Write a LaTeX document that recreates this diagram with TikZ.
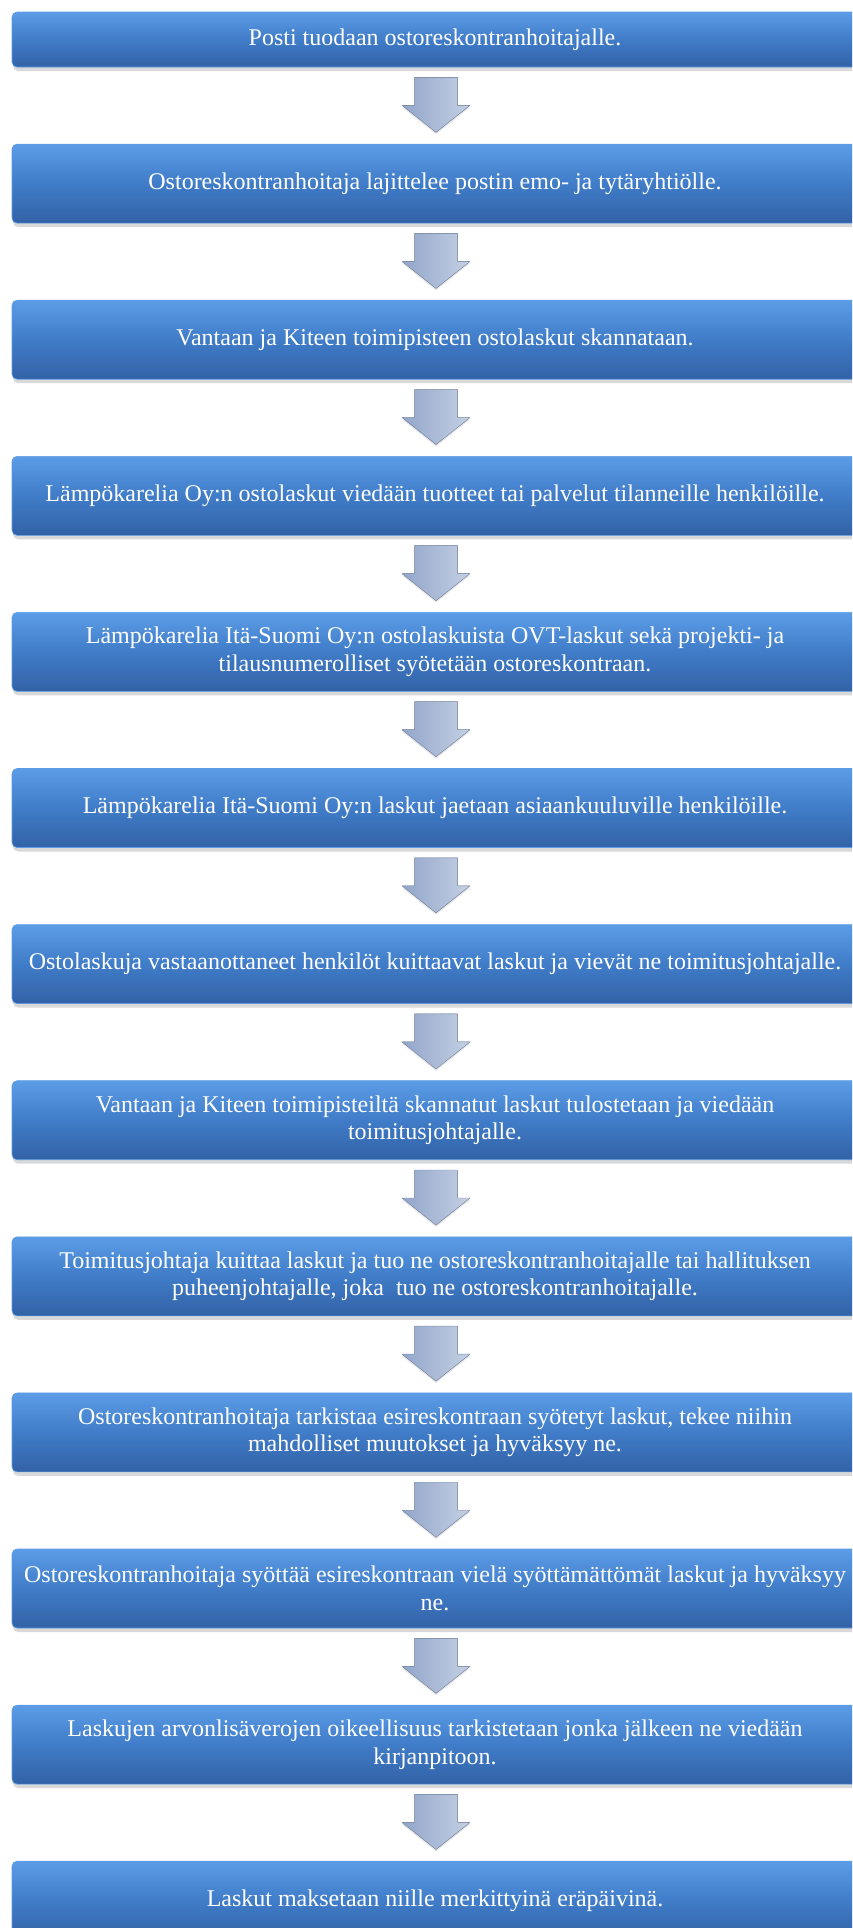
\documentclass[tikz,border=0pt]{standalone}
\usepackage{fontspec}
\setmainfont{Liberation Serif}
\usepackage{tikz}
\usetikzlibrary{positioning,calc,shadows}
\definecolor{boxtop}{RGB}{92,156,230}
\definecolor{boxmid}{RGB}{64,124,200}
\definecolor{boxbot}{RGB}{50,98,166}
\definecolor{arrowleft}{RGB}{146,166,202}
\definecolor{arrowright}{RGB}{196,208,228}
\definecolor{arrowedge}{RGB}{128,146,178}

% block arrow from the bottom of one step to the top of the next
\newcommand{\flowarrow}[2]{%
  \filldraw[arrowbody]
    ($(#1.south)+(-20.5,-10)$) -- ($(#1.south)+(22.5,-10)$)
    -- ($(#2.north)+(22.5,38.5)$) -- ($(#2.north)+(35,38.5)$)
    -- ($(#2.north)+(1,11.5)$) -- ($(#2.north)+(-33,38.5)$)
    -- ($(#2.north)+(-20.5,38.5)$) -- cycle;}

\begin{document}
\begin{tikzpicture}[
    x=1pt, y=1pt,
    node distance=76.5pt,
    stepbox/.style={rectangle, rounded corners=5pt, draw=boxtop, line width=0.6pt,
        top color=boxtop, bottom color=boxbot, middle color=boxmid,
        drop shadow={shadow xshift=1pt, shadow yshift=-4pt, opacity=0.3},
        minimum width=846pt, minimum height=79pt, inner sep=2pt,
        align=center, text=white, font=\fontsize{24}{27.5}\selectfont},
    arrowbody/.style={draw=arrowedge, line width=0.4pt, line join=round,
        left color=arrowleft, right color=arrowright,
        drop shadow={shadow xshift=0pt, shadow yshift=-2pt, opacity=0.2}}
]
\useasboundingbox (0,0) rectangle (852,-1928);
\clip (0,0) rectangle (852,-1928);

\node [stepbox, minimum height=55pt] (s1) at (435,-39.5) {Posti tuodaan ostoreskontranhoitajalle.};
\node [stepbox, below=of s1] (s2) {Ostoreskontranhoitaja lajittelee postin emo- ja tytäryhtiölle.};
\node [stepbox, below=of s2] (s3) {Vantaan ja Kiteen toimipisteen ostolaskut skannataan.};
\node [stepbox, below=of s3] (s4) {Lämpökarelia Oy:n ostolaskut viedään tuotteet tai palvelut tilanneille henkilöille.};
\node [stepbox, below=of s4] (s5) {Lämpökarelia Itä-Suomi Oy:n ostolaskuista OVT-laskut sekä projekti- ja\\tilausnumerolliset syötetään ostoreskontraan.};
\node [stepbox, below=of s5] (s6) {Lämpökarelia Itä-Suomi Oy:n laskut jaetaan asiaankuuluville henkilöille.};
\node [stepbox, below=of s6] (s7) {Ostolaskuja vastaanottaneet henkilöt kuittaavat laskut ja vievät ne toimitusjohtajalle.};
\node [stepbox, below=of s7] (s8) {Vantaan ja Kiteen toimipisteiltä skannatut laskut tulostetaan ja viedään\\toimitusjohtajalle.};
\node [stepbox, below=of s8] (s9) {Toimitusjohtaja kuittaa laskut ja tuo ne ostoreskontranhoitajalle tai hallituksen\\puheenjohtajalle, joka\ \ tuo ne ostoreskontranhoitajalle.};
\node [stepbox, below=of s9] (s10) {Ostoreskontranhoitaja tarkistaa esireskontraan syötetyt laskut, tekee niihin\\mahdolliset muutokset ja hyväksyy ne.};
\node [stepbox, below=of s10] (s11) {Ostoreskontranhoitaja syöttää esireskontraan vielä syöttämättömät laskut ja hyväksyy\\ne.};
\node [stepbox, below=of s11] (s12) {Laskujen arvonlisäverojen oikeellisuus tarkistetaan jonka jälkeen ne viedään\\kirjanpitoon.};
\node [stepbox, below=of s12] (s13) {Laskut maksetaan niille merkittyinä eräpäivinä.};

\foreach \a/\b in {s1/s2,s2/s3,s3/s4,s4/s5,s5/s6,s6/s7,s7/s8,s8/s9,s9/s10,s10/s11,s11/s12,s12/s13}
  {\flowarrow{\a}{\b}}

\end{tikzpicture}
\end{document}
